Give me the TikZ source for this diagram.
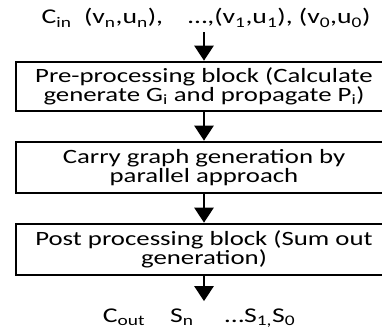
\documentclass[tikz,border=0pt]{standalone}
\usepackage{fontspec}
\setmainfont{Carlito}[FakeStretch=1.32]
\usetikzlibrary{arrows.meta}
\begin{document}
\begin{tikzpicture}[x=1pt,y=-1pt,
  blockbox/.style={draw, line width=2.6pt, minimum width=376pt, inner sep=0pt,
    align=center, font=\fontsize{20.3}{15}\selectfont},
  flow/.style={line width=2.4pt, -{Triangle[width=19pt,length=15pt]}},
  lbl/.style={font=\fontsize{21}{21}\selectfont, inner sep=0pt}]
\clip (0,0) rectangle (382,329);

% processing blocks
\node[blockbox, minimum height=49pt] (pre) at (204,86.5)
  {Pre-processing block (Calculate\\generate G\textsubscript{i} and propagate P\textsubscript{i})};
\node[blockbox, minimum height=51pt] (carry) at (204,167.5)
  {Carry graph generation by\\parallel approach};
\node[blockbox, minimum height=51pt] (post) at (204,249.5)
  {Post processing block (Sum out\\generation)};

% inputs and outputs
\node[lbl, anchor=base] (in) at (206,24)
  {C\textsubscript{in}\ \ (v\textsubscript{n},u\textsubscript{n}),\ \ \ \ …,(v\textsubscript{1},u\textsubscript{1}), (v\textsubscript{0},u\textsubscript{0})};
\node[lbl, anchor=base] (out) at (199,322)
  {C\textsubscript{out}\ \ \ \ S\textsubscript{n}\ \ \ \ \ …S\textsubscript{1,}S\textsubscript{0}};

% flow arrows
\draw[flow, shorten <=5pt] (in.south -| pre.north) -- (pre.north);
\draw[flow] (pre) -- (carry);
\draw[flow] (carry) -- (post);
\draw[flow, shorten >=7pt] (post.south) -- (out.north -| post.south);
\end{tikzpicture}
\end{document}
